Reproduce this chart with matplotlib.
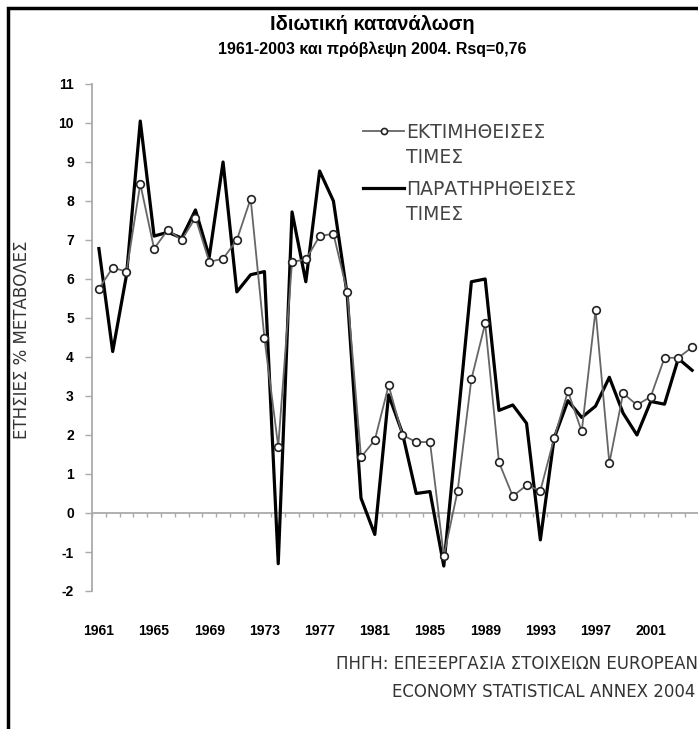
import numpy as np
import matplotlib
matplotlib.use('Agg')
import matplotlib.pyplot as plt
from matplotlib.patches import Rectangle
from matplotlib.lines import Line2D

plt.rcParams['font.family'] = ['Liberation Sans', 'DejaVu Sans']

years = np.arange(1961, 2005)

# estimated values (line with circles)
estimated = [5.75, 6.29, 6.19, 8.44, 6.78, 7.26, 7.00, 7.57, 6.44, 6.52,
             7.00, 8.06, 4.48, 1.70, 6.44, 6.50, 7.10, 7.16, 5.67, 1.43,
             1.87, 3.27, 2.00, 1.82, 1.82, -1.10, 0.56, 3.43, 4.86, 1.30,
             0.43, 0.71, 0.57, 1.92, 3.12, 2.09, 5.20, 1.28, 3.07, 2.77,
             2.98, 3.98, 3.98, 4.25]

# observed values (thick black line)
observed = [6.78, 4.14, 6.10, 10.05, 7.10, 7.20, 7.05, 7.77, 6.57, 9.00,
            5.67, 6.11, 6.19, -1.30, 7.72, 5.93, 8.77, 8.00, 5.60, 0.38,
            -0.55, 3.03, 2.05, 0.50, 0.55, -1.36, 2.30, 5.93, 6.00, 2.63,
            2.77, 2.30, -0.69, 1.92, 2.88, 2.45, 2.74, 3.48, 2.56, 2.00,
            2.86, 2.79, 3.96, 3.66]

label_years = np.arange(1961, 2002, 4)
yticks = np.arange(-2, 12, 1)

fig = plt.figure(figsize=(6.98, 7.29), dpi=100)

# black frame (left and top only visible, picture is cropped)
fig.patches.append(Rectangle((8 / 698, -0.1), 1.2, (721 + 73) / 729, transform=fig.transFigure,
                             fill=False, edgecolor='black', linewidth=2.5))

ax = fig.add_axes([92 / 698, 1 - 591 / 729, 607 / 698, (591 - 84) / 729])
ax.set_xlim(1960.5, 2004.5)
ax.set_ylim(-2, 11)

est_line, = ax.plot(years, estimated, color='#666666', linewidth=1.3, marker='o', markersize=5.5,
                    markerfacecolor='white', markeredgecolor='#222222', markeredgewidth=1.2,
                    zorder=3)
obs_line, = ax.plot(years, observed, color='black', linewidth=2.3, zorder=2)

# zero line with category ticks
ax.axhline(0, color='#aaaaaa', linewidth=1.3, zorder=1)
bounds = np.append(years - 0.5, years[-1] + 0.5)
ax.vlines(bounds, -0.1, 0, color='#aaaaaa', linewidth=1, zorder=1)

for s in ['top', 'right', 'bottom']:
    ax.spines[s].set_visible(False)
ax.spines['left'].set_color('#aaaaaa')
ax.spines['left'].set_linewidth(1.3)

ax.set_yticks(yticks)
ax.set_yticklabels([str(v) for v in yticks], fontsize=10, fontweight='bold')
ax.tick_params(axis='y', colors='#aaaaaa', length=5, width=1, pad=8, labelcolor='black')
ax.set_xticks(label_years)
ax.set_xticklabels([str(v) for v in label_years], fontsize=10, fontweight='bold')
ax.tick_params(axis='x', length=0, pad=24)

fig.text(22 / 698, 1 - 340 / 729, 'ΕΤΗΣΙΕΣ % ΜΕΤΑΒΟΛΕΣ', rotation=90, ha='center', va='center',
         fontsize=12, color='#333333', family='DejaVu Sans')

blank = Line2D([], [], linestyle='none')
leg_kw = dict(loc='upper left', bbox_transform=fig.transFigure, frameon=False, borderpad=0,
              borderaxespad=0, handlelength=2.2, handletextpad=0.12, labelspacing=0.3,
              markerscale=0.8, prop={'family': 'DejaVu Sans', 'size': 13.5})
leg1 = fig.legend([est_line, blank], ['ΕΚΤΙΜΗΘΕΙΣΕΣ', 'ΤΙΜΕΣ'],
                  bbox_to_anchor=(363 / 698, 1 - 123 / 729), **leg_kw)
leg2 = fig.legend([obs_line, blank], ['ΠΑΡΑΤΗΡΗΘΕΙΣΕΣ', 'ΤΙΜΕΣ'],
                  bbox_to_anchor=(363 / 698, 1 - 180 / 729), **leg_kw)
for leg in (leg1, leg2):
    for t in leg.get_texts():
        t.set_color('#444444')

fig.text(372 / 698, 1 - 25 / 729, 'Ιδιωτική κατανάλωση', ha='center', va='center',
         fontsize=14.5, fontweight='bold')
fig.text(372 / 698, 1 - 49 / 729, '1961-2003 και πρόβλεψη 2004. Rsq=0,76', ha='center',
         va='center', fontsize=11.5, fontweight='bold')

fig.text(698 / 698, 1 - 664 / 729, 'ΠΗΓΗ: ΕΠΕΞΕΡΓΑΣΙΑ ΣΤΟΙΧΕΙΩΝ EUROPEAN', ha='right',
         va='center', fontsize=12, color='#333333', family='DejaVu Sans')
fig.text(695 / 698, 1 - 692 / 729, 'ECONOMY STATISTICAL ANNEX 2004', ha='right',
         va='center', fontsize=12, color='#333333', family='DejaVu Sans')

fig.savefig('out.png', dpi=100)
